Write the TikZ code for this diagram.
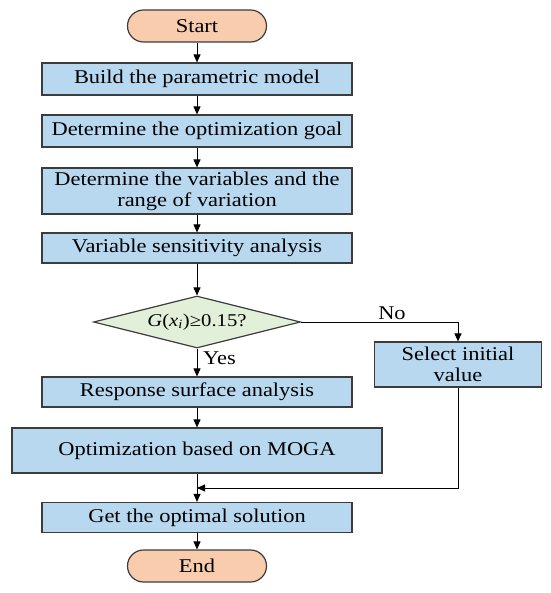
\documentclass[tikz,border=0pt]{standalone}
\usepackage{fontspec}
\setmainfont{Liberation Serif}[FakeStretch=1.15]
\usetikzlibrary{shapes.geometric,arrows.meta}
\definecolor{boxblue}{RGB}{184,216,240}
\definecolor{peach}{RGB}{248,204,173}
\definecolor{mint}{RGB}{226,240,217}
\definecolor{edge}{RGB}{60,60,60}
\begin{document}
\begin{tikzpicture}[x=1pt,y=1pt,
  every node/.style={font=\fontsize{19.5}{21}\selectfont, inner sep=0pt},
  procbox/.style={draw=edge, line width=1.2pt, fill=boxblue, align=center},
  termbox/.style={draw=edge, line width=1.2pt, fill=peach, rounded corners=16pt, minimum width=139pt, minimum height=32pt},
  decbox/.style={draw=edge, line width=1.2pt, fill=mint, diamond, aspect=4, minimum width=207pt, minimum height=52pt},
  flow/.style={draw=black, line width=1pt, -{Triangle[length=8pt,width=7pt]}},
  plain/.style={draw=black, line width=1pt}
]
\useasboundingbox (0,0) rectangle (550,-593);
\node[termbox] (start) at (197,-26) {Start};
\node[procbox, minimum width=310pt, minimum height=32pt] (build) at (197,-79) {Build the parametric model};
\node[procbox, minimum width=310pt, minimum height=32pt] (goal) at (197,-131) {Determine the optimization goal};
\node[procbox, minimum width=310pt, minimum height=46pt] (detvar) at (197,-191) {Determine the variables and the\\range of variation};
\node[procbox, minimum width=310pt, minimum height=30pt] (sens) at (197,-248) {Variable sensitivity analysis};
\node[decbox, font=\fontsize{18}{20}\selectfont] (dec) at (197,-322) {\textit{G}(\textit{x}\textsubscript{\textit{i}})≥0.15?};
\node[procbox, minimum width=167pt, minimum height=45pt] (sel) at (458,-364.5) {Select initial\\value};
\node[procbox, minimum width=310pt, minimum height=30pt] (resp) at (197,-392) {Response surface analysis};
\node[procbox, minimum width=370pt, minimum height=45pt] (moga) at (197,-450.5) {Optimization based on MOGA};
\node[procbox, minimum width=310pt, minimum height=30pt] (get) at (197,-517.5) {Get the optimal solution};
\node[termbox] (end) at (197,-566) {End};
\node[anchor=west] (yes) at (203,-358) {Yes};
\node[anchor=south] (no) at (392,-320) {No};
\coordinate (join) at (197,-488);
\draw[flow] (start) -- (build);
\draw[flow] (build) -- (goal);
\draw[flow] (goal) -- (detvar);
\draw[flow] (detvar) -- (sens);
\draw[flow] (sens) -- (dec);
\draw[flow] (dec) -- (resp);
\draw[flow] (dec.east) -| (sel.north);
\draw[flow] (resp) -- (moga);
\draw[flow] (moga) -- (get);
\draw[flow] (sel.south) |- (join);
\draw[flow] (get) -- (end);
\end{tikzpicture}
\end{document}
